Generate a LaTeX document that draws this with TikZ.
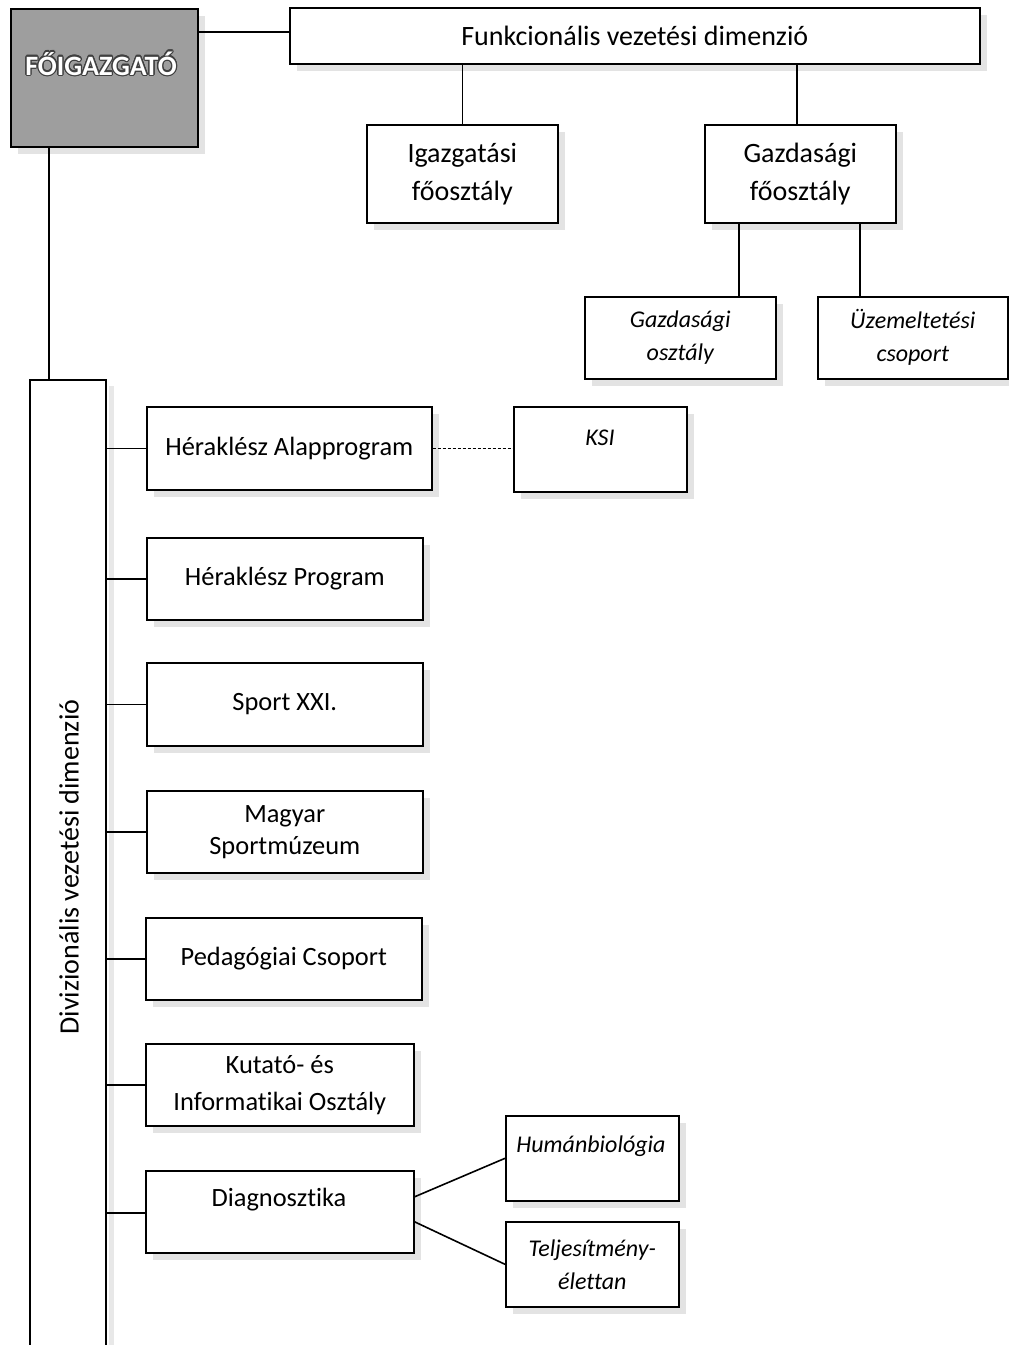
\documentclass[tikz,border=0pt]{standalone}
\usepackage{fontspec}
\setmainfont{Carlito}[Ligatures=CommonOff]
\usepackage{contour}
\contourlength{1.2pt}
\usetikzlibrary{shadows}
\begin{document}
\begin{tikzpicture}[x=1pt,y=-1pt,
  line width=1.6pt,
  box/.style={draw, line width=1.6pt, fill=white, inner sep=0pt, anchor=north west,
    general shadow={fill=black!11, shadow xshift=7pt, shadow yshift=-7pt},
    align=center, font=\fontsize{28}{38}\selectfont},
  dbox/.style={box, font=\fontsize{26.4}{32}\selectfont},
  sbox/.style={box, font=\fontsize{24}{33}\selectfont\itshape},
  lbl/.style={inner sep=0pt, align=center},
  conn/.style={draw, line width=1.6pt}]
\useasboundingbox (0,0) rectangle (1009,1345);

% top
\node[box, fill=black!38, minimum width=187pt, minimum height=138pt] (fo) at (10,8) {};
\node[lbl, text=white, font=\fontsize{28}{30}\selectfont\bfseries] (folab) at (101,64) {\contour{black!75}{FŐIGAZGATÓ}};
\node[box, minimum width=690pt, minimum height=56pt] (funk) at (289,7) {Funkcionális vezetési dimenzió};
\node[box, minimum width=191pt, minimum height=98pt] (igaz) at (366,124) {Igazgatási\\főosztály};
\node[box, minimum width=191pt, minimum height=98pt] (gazd) at (704,124) {Gazdasági\\főosztály};
\node[sbox, minimum width=191pt, minimum height=82pt] (gosz) at (584,296) {Gazdasági\\osztály};
\node[sbox, minimum width=190pt, minimum height=82pt] (uzem) at (817,296) {Üzemeltetési\\csoport};

% divisional frame
\coordinate (divtl) at (30,380);
\coordinate (divtr) at (106,380);
\coordinate (divbl) at (30,1345);
\coordinate (divbr) at (106,1345);
\fill[black!9] (109,386) rectangle (114,1345);
\fill[white] (divbl) rectangle (divtr);
\draw[conn] (divbl) -- (divtl) -- (divtr) -- (divbr);
\node[lbl, rotate=90, font=\fontsize{28}{32}\selectfont] (divlab) at (69,867) {Divizionális vezetési dimenzió};

% division boxes
\node[dbox, minimum width=285pt, minimum height=83pt] (hera) at (146,406) {Héraklész Alapprogram};
\node[sbox, minimum width=173pt, minimum height=85pt] (ksi) at (513,406) {};
\node[lbl, font=\fontsize{24}{28}\selectfont\itshape] (ksilab) at (600,438) {KSI};
\node[dbox, minimum width=276pt, minimum height=82pt] (herp) at (146,537) {Héraklész Program};
\node[dbox, minimum width=276pt, minimum height=83pt] (sport) at (146,662) {Sport XXI.};
\node[dbox, minimum width=276pt, minimum height=82pt] (magy) at (146,790) {Magyar\\Sportmúzeum};
\node[dbox, minimum width=276pt, minimum height=82pt] (ped) at (145,917) {Pedagógiai Csoport};
\node[dbox, minimum width=268pt, minimum height=82pt, font=\fontsize{26.4}{37}\selectfont] (kut) at (145,1043) {Kutató- és\\Informatikai Osztály};
\node[dbox, minimum width=268pt, minimum height=82pt] (diag) at (145,1170) {};
\node[lbl, font=\fontsize{26.4}{32}\selectfont] (diaglab) at (279,1200) {Diagnosztika};
\node[sbox, minimum width=173pt, minimum height=85pt] (hum) at (505,1115) {};
\node[lbl, font=\fontsize{24}{28}\selectfont\itshape] (humlab) at (591,1146) {Humánbiológia};
\node[sbox, minimum width=173pt, minimum height=85pt] (telj) at (505,1221) {Teljesítmény-\\élettan};

% connectors top
\draw[conn] (funk.west |- 0,32) -- (fo.east |- 0,32);
\draw[conn] (igaz.north) -- (igaz.north |- funk.south);
\coordinate (g0) at (797,63);
\draw[conn] (g0) -- (g0 |- gazd.north);
\coordinate (g1) at (739,222);
\draw[conn] (g1) -- (g1 |- gosz.north);
\coordinate (g2) at (860,222);
\draw[conn] (g2) -- (g2 |- uzem.north);
\coordinate (f1) at (49,146);
\draw[conn] (f1) -- (f1 |- divtl);

% branches
\foreach \n in {hera,herp,sport,magy,ped,kut}
  \draw[conn] (\n.west) -- (\n.west -| divtr);
\draw[conn] ([yshift=-1pt]diag.west) -- ([yshift=-1pt]diag.west -| divtr);
\draw[conn, dash pattern=on 3pt off 2pt, line width=1.1pt] (hera.east) -- (hera.east -| ksi.west);
\draw[conn] ([yshift=15pt]diag.east) -- (hum.west);
\draw[conn] ([yshift=-10pt]diag.east) -- (telj.west);
\end{tikzpicture}
\end{document}
